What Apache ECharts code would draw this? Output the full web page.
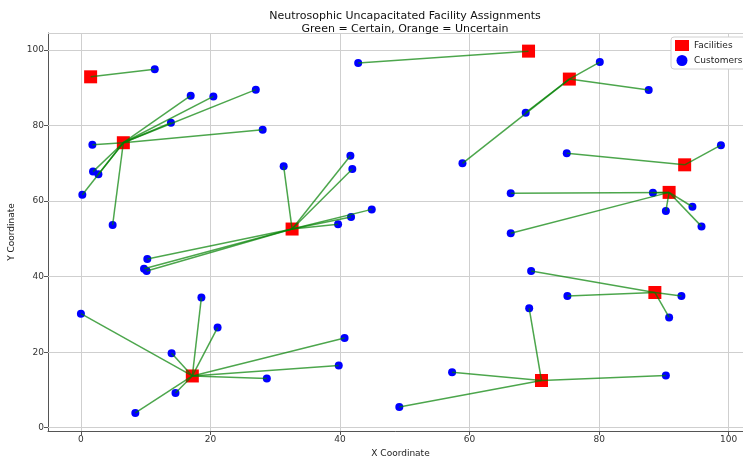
<!DOCTYPE html>
<html>
<head>
<meta charset="utf-8">
<script src="https://cdn.jsdelivr.net/npm/echarts@6/dist/echarts.min.js"></script>
<style>html,body{margin:0;padding:0;background:#fff}#c{width:743px;height:457px}</style>
</head>
<body>
<div id="c"></div>
<script>
// Facilities
const facilityX = [1.5, 6.55, 32.6, 69.1, 75.4, 93.2, 90.8, 17.2, 88.6, 71.1];
const facilityY = [92.9, 75.45, 52.6, 99.7, 92.3, 69.6, 62.3, 13.7, 35.8, 12.5];
// Customers and the facility index each is assigned to
const customerX = [11.4,
  16.95, 20.45, 27.0, 13.9, 28.06, 1.77, 1.87, 2.7, 0.22, 4.9,
  31.3, 41.6, 41.9, 39.7, 41.7, 44.9, 10.25, 9.74, 10.15,
  42.8,
  80.1, 87.65, 68.66, 58.9,
  98.8, 75.0,
  66.35, 88.3, 90.3, 94.4, 95.8, 66.35,
  0.0, 18.6, 21.1, 14.0, 40.7, 39.8, 28.7, 14.6, 8.4,
  69.5, 75.1, 92.7, 90.8,
  69.2, 57.3, 90.3, 49.15];
const customerY = [94.9,
  87.9, 87.7, 89.5, 80.75, 78.9, 74.9, 67.8, 67.1, 61.7, 53.7,
  69.2, 72.0, 68.5, 53.85, 55.8, 57.8, 44.65, 42.1, 41.5,
  96.55,
  96.8, 89.4, 83.4, 70.0,
  74.8, 72.65,
  62.1, 62.2, 57.4, 58.5, 53.3, 51.5,
  30.2, 34.5, 26.5, 19.7, 23.75, 16.5, 13.0, 9.2, 3.9,
  41.5, 34.9, 34.9, 29.2,
  31.6, 14.7, 13.8, 5.5];
const assignedTo = [0,
  1,1,1,1,1,1,1,1,1,1,
  2,2,2,2,2,2,2,2,2,
  3,
  4,4,4,4,
  5,5,
  6,6,6,6,6,6,
  7,7,7,7,7,7,7,7,7,
  8,8,8,8,
  9,9,9,9];
const xTicks = [0, 20, 40, 60, 80, 100];
const yTicks = [0, 20, 40, 60, 80, 100];

const chart = echarts.init(document.getElementById('c'), null, {renderer: 'canvas'});
const font = 'DejaVu Sans';

const lineSeries = customerX.map((cx, i) => ({
  type: 'line',
  data: [[facilityX[assignedTo[i]], facilityY[assignedTo[i]]], [cx, customerY[i]]],
  symbol: 'none',
  silent: true,
  lineStyle: {color: 'green', width: 1.5, opacity: 0.7},
  z: 5,
  animation: false
}));

const axisCommon = {
  axisLine: {show: true, onZero: false, lineStyle: {color: '#555', width: 1}},
  axisTick: {show: true, inside: false, length: 4, lineStyle: {color: '#555'}},
  axisLabel: {color: '#333', fontSize: 9, fontFamily: font, margin: 4},
  nameTextStyle: {color: '#222', fontSize: 9, fontFamily: font}
};

const gridLineStyle = {color: '#cfcfcf', width: 1, type: 'solid'};

chart.setOption({
  animation: false,
  backgroundColor: '#fff',
  title: {
    text: 'Neutrosophic Uncapacitated Facility Assignments\nGreen = Certain, Orange = Uncertain',
    left: 400, top: 5, textAlign: 'center',
    textStyle: {fontSize: 11, fontWeight: 'normal', color: '#111', fontFamily: font, lineHeight: 13}
  },
  legend: {
    orient: 'vertical', left: 671, top: 37,
    itemWidth: 14, itemHeight: 11, itemGap: 4,
    padding: [3, 6, 3, 4],
    backgroundColor: '#fff', borderColor: '#d0d0d0', borderWidth: 1, borderRadius: 3,
    textStyle: {fontSize: 9, color: '#222', fontFamily: font},
    data: [{name: 'Facilities', icon: 'rect'}, {name: 'Customers', icon: 'circle'}]
  },
  grid: {left: 48, top: 33, width: 705, height: 398, containLabel: false, outerBoundsMode: 'none'},
  xAxis: Object.assign({}, axisCommon, {
    type: 'value', min: -5.08, max: 103.75,
    name: 'X Coordinate', nameLocation: 'middle', nameGap: 16,
    splitLine: {show: false},
    axisTick: Object.assign({}, axisCommon.axisTick, {customValues: xTicks}),
    axisLabel: Object.assign({}, axisCommon.axisLabel, {customValues: xTicks})
  }),
  yAxis: Object.assign({}, axisCommon, {
    type: 'value', min: -0.87, max: 104.5,
    name: 'Y Coordinate', nameLocation: 'middle', nameGap: 27,
    splitLine: {show: false},
    axisTick: Object.assign({}, axisCommon.axisTick, {customValues: yTicks}),
    axisLabel: Object.assign({}, axisCommon.axisLabel, {customValues: yTicks})
  }),
  series: [
    {
      name: 'Facilities', type: 'scatter', symbol: 'rect', symbolSize: 13,
      itemStyle: {color: '#ff0000', opacity: 1}, z: 3,
      data: facilityX.map((x, i) => [x, facilityY[i]]),
      markLine: {
        silent: true, symbol: 'none', label: {show: false}, animation: false,
        lineStyle: gridLineStyle, z: 1,
        data: xTicks.map(v => ({xAxis: v})).concat(yTicks.map(v => ({yAxis: v})), [{yAxis: 104.5}])
      }
    },
    {
      name: 'Customers', type: 'scatter', symbol: 'circle', symbolSize: 8,
      itemStyle: {color: '#0000ff', opacity: 1}, z: 4,
      data: customerX.map((x, i) => [x, customerY[i]])
    }
  ].concat(lineSeries)
});
</script>
</body>
</html>
